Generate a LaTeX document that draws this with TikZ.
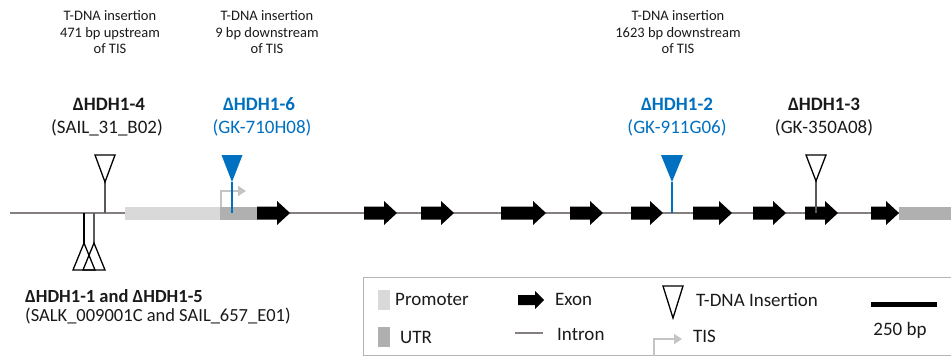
\documentclass[tikz,border=0pt]{standalone}
\usepackage{fontspec}
\setmainfont{Carlito}
\usetikzlibrary{arrows.meta}
\definecolor{intron}{HTML}{857F7F}
\definecolor{promo}{HTML}{D9D9D9}
\definecolor{utr}{HTML}{B0B0B0}
\definecolor{hblue}{HTML}{0070C0}
\definecolor{tisgrey}{HTML}{C4C4C4}
\definecolor{stem}{HTML}{595959}
\definecolor{txt}{HTML}{1A1A1A}
\definecolor{boxline}{HTML}{B4B4B4}
\tikzset{
  small/.style={font=\fontsize{14.5}{17}\selectfont, text=txt, inner sep=0pt, anchor=base},
  big/.style={font=\fontsize{19}{22}\selectfont, text=txt, inner sep=0pt, anchor=base},
  bigb/.style={font=\fontsize{19}{22}\selectfont\bfseries, text=txt, inner sep=0pt, anchor=base},
  leg/.style={font=\fontsize{19}{22}\selectfont, text=txt, inner sep=0pt, anchor=base west},
  intronline/.style={draw=intron, line width=2.5pt},
  opentri/.style={draw=black, line width=1.3pt, fill=white, line join=miter},
  bluetri/.style={fill=hblue},
  stemline/.style={draw=stem, line width=1.4pt},
  bluestem/.style={draw=hblue, line width=1.4pt},
  tisarrow/.style={draw=tisgrey, line width=2pt, -{Triangle[length=8pt,width=10pt]}},
}
\begin{document}
\begin{tikzpicture}[x=1pt,y=-1pt]
\useasboundingbox (0,0) rectangle (951,356);
% main intron line
\coordinate (lineL) at (10,213);
\coordinate (lineR) at (900,213);
\draw[intronline] (lineL) -- (lineR);
% promoter, UTR boxes
\fill[promo] (125,206.5) rectangle (220,219.5);
\fill[utr] (220,206.5) rectangle (257,219.5);
\fill[utr] (899,206.5) rectangle (951,219.5);
% exons
\foreach \a/\b in {257/290,364/397,421/454,501/546,570/603,631/663,693/732,753/786,805/838,871/899}{
  \fill[black] (\a,206.5) -- (\b-13,206.5) -- (\b-13,201) -- (\b,213) -- (\b-13,225) -- (\b-13,219.5) -- (\a,219.5) -- cycle;
}
% TIS arrow
\coordinate (tisA) at (221,207);
\coordinate (tisB) at (221,191);
\coordinate (tisC) at (246,191);
\draw[tisarrow] (tisA) -- (tisB) -- (tisC);
% HDH1-4 insertion
\coordinate (t4) at (105,182);
\coordinate (t4b) at (105,213);
\draw[stemline] (t4) -- (t4b);
\draw[opentri] (95,155) -- (115,155) -- (t4) -- cycle;
% HDH1-6 insertion
\coordinate (t6) at (232,182);
\coordinate (t6b) at (232,213);
\draw[bluestem] (t6) -- (t6b);
\fill[bluetri] (221.5,155) -- (242.5,155) -- (t6) -- cycle;
% HDH1-2 insertion
\coordinate (t2) at (672,182);
\coordinate (t2b) at (672,213);
\draw[bluestem] (t2) -- (t2b);
\fill[bluetri] (661,155) -- (683,155) -- (t2) -- cycle;
% HDH1-3 insertion
\coordinate (t3) at (816,181);
\coordinate (t3b) at (816,213);
\draw[stemline] (t3) -- (t3b);
\draw[opentri] (806,155) -- (826,155) -- (t3) -- cycle;
% HDH1-1 and HDH1-5 insertions
\coordinate (t1) at (84,243);
\coordinate (t1b) at (84,213);
\coordinate (t5) at (94,243);
\coordinate (t5b) at (94,213);
\draw[draw=black, line width=1.4pt] (t1b) -- (t1);
\draw[stemline] (t5b) -- (t5);
\draw[opentri, fill=none] (73,270) -- (95,270) -- (t1) -- cycle;
\draw[opentri, fill=none] (83,270) -- (105,270) -- (t5) -- cycle;
% small labels
\node[small] (a1) at (110,20) {T-DNA insertion};
\node[small] (a2) at (110,37) {471 bp upstream};
\node[small] (a3) at (110,53) {of TIS};
\node[small] (b1) at (267,20) {T-DNA insertion};
\node[small] (b2) at (267,37) {9 bp downstream};
\node[small] (b3) at (267,53) {of TIS};
\node[small] (c1) at (678,20) {T-DNA insertion};
\node[small] (c2) at (678,37) {1623 bp downstream};
\node[small] (c3) at (678,53) {of TIS};
% mutant labels
\node[bigb] (n4) at (109,110) {ΔHDH1-4};
\node[big] (s4) at (107,133) {(SAIL\_31\_B02)};
\node[bigb, text=hblue] (n6) at (259,110) {ΔHDH1-6};
\node[big, text=hblue] (s6) at (262,133) {(GK-710H08)};
\node[bigb, text=hblue] (n2) at (677,110) {ΔHDH1-2};
\node[big, text=hblue] (s2) at (677,133) {(GK-911G06)};
\node[bigb] (n3) at (824,110) {ΔHDH1-3};
\node[big] (s3) at (824,133) {(GK-350A08)};
\node[bigb, anchor=base west, font=\fontsize{18.5}{21}\selectfont\bfseries] (n15) at (25,302) {ΔHDH1-1 and ΔHDH1-5};
\node[big, anchor=base west, font=\fontsize{18.5}{21}\selectfont] (s15) at (25,321) {(SALK\_009001C and SAIL\_657\_E01)};
% legend box
\draw[boxline, line width=1pt] (960,277) -- (363,277) -- (363,355) -- (960,355);
\fill[promo] (378,290) rectangle (390,310);
\node[leg] (lp) at (395,305) {Promoter};
\fill[utr] (378,327) rectangle (390,347);
\node[leg] (lu) at (400,343) {UTR};
\fill[black] (518,295) -- (535,295) -- (535,291) -- (544,300) -- (535,309) -- (535,305) -- (518,305) -- cycle;
\node[leg] (le) at (555,305) {Exon};
\coordinate (liA) at (515,333);
\coordinate (liB) at (543,333);
\draw[intronline] (liA) -- (liB);
\node[leg] (li) at (557,340) {Intron};
\draw[opentri] (663,286) -- (683,286) -- (673,318) -- cycle;
\node[leg] (lt) at (696,306) {T-DNA Insertion};
\coordinate (ltA) at (654,357);
\coordinate (ltB) at (654,339);
\coordinate (ltC) at (682,339);
\draw[tisarrow] (ltA) -- (ltB) -- (ltC);
\node[leg] (ltis) at (693,342) {TIS};
\coordinate (sbA) at (871,304);
\coordinate (sbB) at (937,304);
\draw[black, line width=5pt] (sbA) -- (sbB);
\node[big] (sb) at (900,335) {250 bp};
\end{tikzpicture}
\end{document}
